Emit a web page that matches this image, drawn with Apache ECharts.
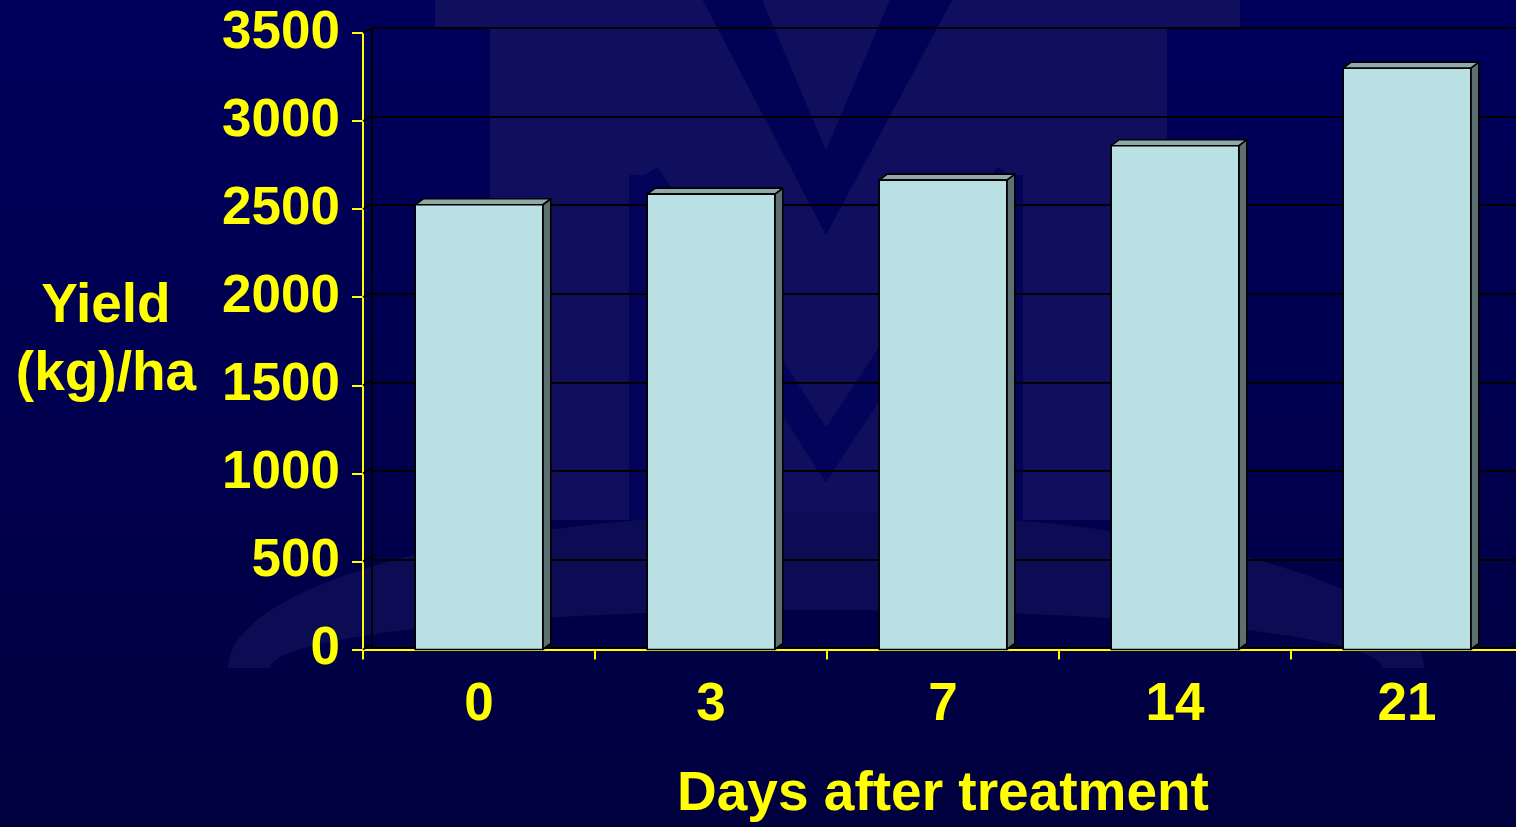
<!DOCTYPE html>
<html>
<head>
<meta charset="utf-8">
<title>Yield (kg)/ha by days after treatment</title>
<script src="https://cdn.jsdelivr.net/npm/echarts@6/dist/echarts.min.js"></script>
<style>
  html, body { margin: 0; padding: 0; width: 1516px; height: 827px; overflow: hidden; }
  body { background: linear-gradient(to bottom, #00005c 0%, #00004e 55%, #00003e 100%); }
  #wrap { position: relative; width: 1516px; height: 827px; overflow: hidden; }
  /* the plot runs past the right edge of the frame */
  #chart { position: absolute; left: 0; top: 0; width: 1540px; height: 827px; }
</style>
</head>
<body>
<div id="wrap"><div id="chart"></div></div>
<script>
// Days after treatment (category axis)
const categories = ['0', '3', '7', '14', '21'];
// Yield in kg per hectare for each category
const yieldValues = [2525, 2585, 2665, 2860, 3300];
// Value-axis ticks
const yMin = 0;
const yMax = 3500;
const yStep = 500;
const yTickValues = [0, 500, 1000, 1500, 2000, 2500, 3000, 3500];

const YELLOW = '#ffff00';
const FONT = '"Liberation Sans", Arial, Helvetica, sans-serif';

// Depth of the pseudo-3D walls and columns (screen offsets)
const WALL_DX = 9, WALL_DY = 5;
const BAR_DX = 8, BAR_DY = 6;
const BAR_RATIO = 0.55;

const chart = echarts.init(document.getElementById('chart'), null, { renderer: 'canvas' });

// Half-ellipse band used in the background logo
function ellipseBand(cx, cy, rxOut, ryOut, rxIn, ryIn, steps) {
  const pts = [];
  for (let i = 0; i <= steps; i++) {
    const a = Math.PI + Math.PI * i / steps;
    pts.push([cx + rxOut * Math.cos(a), cy + ryOut * Math.sin(a)]);
  }
  for (let i = steps; i >= 0; i--) {
    const a = Math.PI + Math.PI * i / steps;
    pts.push([cx + rxIn * Math.cos(a), cy + ryIn * Math.sin(a)]);
  }
  return pts;
}

// Faint logo watermark in the background
const LOGO_LIGHT = '#0f0f5e';
const LOGO_DARK = '#03035a';
const watermark = [
  { type: 'rect', z: -20, shape: { x: 435, y: -30, width: 805, height: 58 }, style: { fill: LOGO_LIGHT }, silent: true },
  { type: 'rect', z: -20, shape: { x: 490, y: -40, width: 677, height: 560, r: [0, 0, 40, 40] }, style: { fill: LOGO_LIGHT }, silent: true },
  { type: 'polygon', z: -19, shape: { points: [[700, -5], [760, -5], [826, 150], [892, -5], [955, -5], [826, 235]] }, style: { fill: '#010156' }, silent: true },
  { type: 'polyline', z: -19, shape: { points: [[645, 175], [826, 455], [1010, 175]] }, style: { stroke: LOGO_DARK, lineWidth: 30, fill: null }, silent: true },
  { type: 'line', z: -19, shape: { x1: 640, y1: 175, x2: 640, y2: 520 }, style: { stroke: LOGO_DARK, lineWidth: 22 }, silent: true },
  { type: 'line', z: -19, shape: { x1: 1012, y1: 175, x2: 1012, y2: 520 }, style: { stroke: LOGO_DARK, lineWidth: 22 }, silent: true },
  { type: 'polygon', z: -19, shape: { points: ellipseBand(826, 668, 598, 156, 556, 58, 80) }, style: { fill: '#0c0c54' }, silent: true }
];

const option = {
  backgroundColor: 'transparent',
  animation: false,
  graphic: { elements: watermark },
  grid: [
    // front plane: axes, labels and columns
    { left: 363, top: 33, width: 1160, bottom: 174, containLabel: false },
    // back wall, shifted by the depth offset
    { left: 363 + WALL_DX, top: 33 - WALL_DY, width: 1160, bottom: 174 + WALL_DY, containLabel: false }
  ],
  xAxis: [
    {
      type: 'category', gridIndex: 0, data: categories,
      name: 'Days after treatment', nameLocation: 'middle', nameGap: 145,
      nameTextStyle: { color: YELLOW, fontFamily: FONT, fontWeight: 'bold', fontSize: 55, verticalAlign: 'middle' },
      axisLine: { show: true, lineStyle: { color: YELLOW, width: 2 } },
      axisTick: { show: true, inside: false, length: 10, lineStyle: { color: YELLOW, width: 2 } },
      axisLabel: { color: YELLOW, fontFamily: FONT, fontWeight: 'bold', fontSize: 53, margin: 56, verticalAlign: 'middle' },
      splitLine: { show: false }
    },
    {
      type: 'category', gridIndex: 1, data: categories,
      axisLine: { show: true, lineStyle: { color: '#000000', width: 2 } },
      axisTick: { show: false }, axisLabel: { show: false }, splitLine: { show: false }
    }
  ],
  yAxis: [
    {
      type: 'value', gridIndex: 0, min: yMin, max: yMax, interval: yStep,
      name: 'Yield\n(kg)/ha', nameLocation: 'middle', nameGap: 257, nameRotate: 0,
      nameTextStyle: { color: YELLOW, fontFamily: FONT, fontWeight: 'bold', fontSize: 55, lineHeight: 68, align: 'center', verticalAlign: 'middle' },
      axisLine: { show: true, lineStyle: { color: YELLOW, width: 2 } },
      axisTick: { show: true, inside: false, length: 11, lineStyle: { color: YELLOW, width: 2 } },
      axisLabel: {
        color: YELLOW, fontFamily: FONT, fontWeight: 'bold', fontSize: 53, margin: 23,
        formatter: function (v) { return String(v); }
      },
      splitLine: { show: false }
    },
    {
      type: 'value', gridIndex: 1, min: yMin, max: yMax, interval: yStep,
      axisLine: { show: true, lineStyle: { color: '#000000', width: 2 } },
      axisTick: { show: false }, axisLabel: { show: false },
      splitLine: { show: true, lineStyle: { color: '#000000', width: 2 } }
    }
  ],
  series: [
    {
      // diagonal edges joining the front axis ticks to the back wall gridlines
      type: 'custom', xAxisIndex: 0, yAxisIndex: 0, z: 1, silent: true,
      data: yTickValues.map(v => [0, v]),
      renderItem: function (params, api) {
        const p = api.coord([0, api.value(1)]);
        const x = params.coordSys.x;
        return {
          type: 'line',
          shape: { x1: x, y1: p[1], x2: x + WALL_DX, y2: p[1] - WALL_DY },
          style: { stroke: '#000000', lineWidth: 2 }
        };
      }
    },
    {
      // yield columns drawn as shaded boxes
      type: 'custom', xAxisIndex: 0, yAxisIndex: 0, z: 3,
      data: categories.map((c, i) => [i, yieldValues[i]]),
      encode: { x: 0, y: 1 },
      renderItem: function (params, api) {
        const idx = api.value(0);
        const top = api.coord([idx, api.value(1)]);
        const base = api.coord([idx, 0]);
        const w = api.size([1, 0])[0] * BAR_RATIO;
        const x0 = top[0] - w / 2, x1 = top[0] + w / 2;
        const yt = top[1], yb = base[1];
        const edge = { stroke: '#000000', lineWidth: 1.6, lineJoin: 'round' };
        return {
          type: 'group',
          children: [
            { type: 'polygon', shape: { points: [[x1, yt], [x1 + BAR_DX, yt - BAR_DY], [x1 + BAR_DX, yb - BAR_DY], [x1, yb]] },
              style: Object.assign({ fill: '#5d6f6f' }, edge) },
            { type: 'polygon', shape: { points: [[x0, yt], [x0 + BAR_DX, yt - BAR_DY], [x1 + BAR_DX, yt - BAR_DY], [x1, yt]] },
              style: Object.assign({ fill: '#8fa9a9' }, edge) },
            { type: 'rect', shape: { x: x0, y: yt, width: w, height: yb - yt },
              style: Object.assign({ fill: '#b9e0e3' }, edge) }
          ]
        };
      }
    }
  ]
};

chart.setOption(option);
</script>
</body>
</html>
